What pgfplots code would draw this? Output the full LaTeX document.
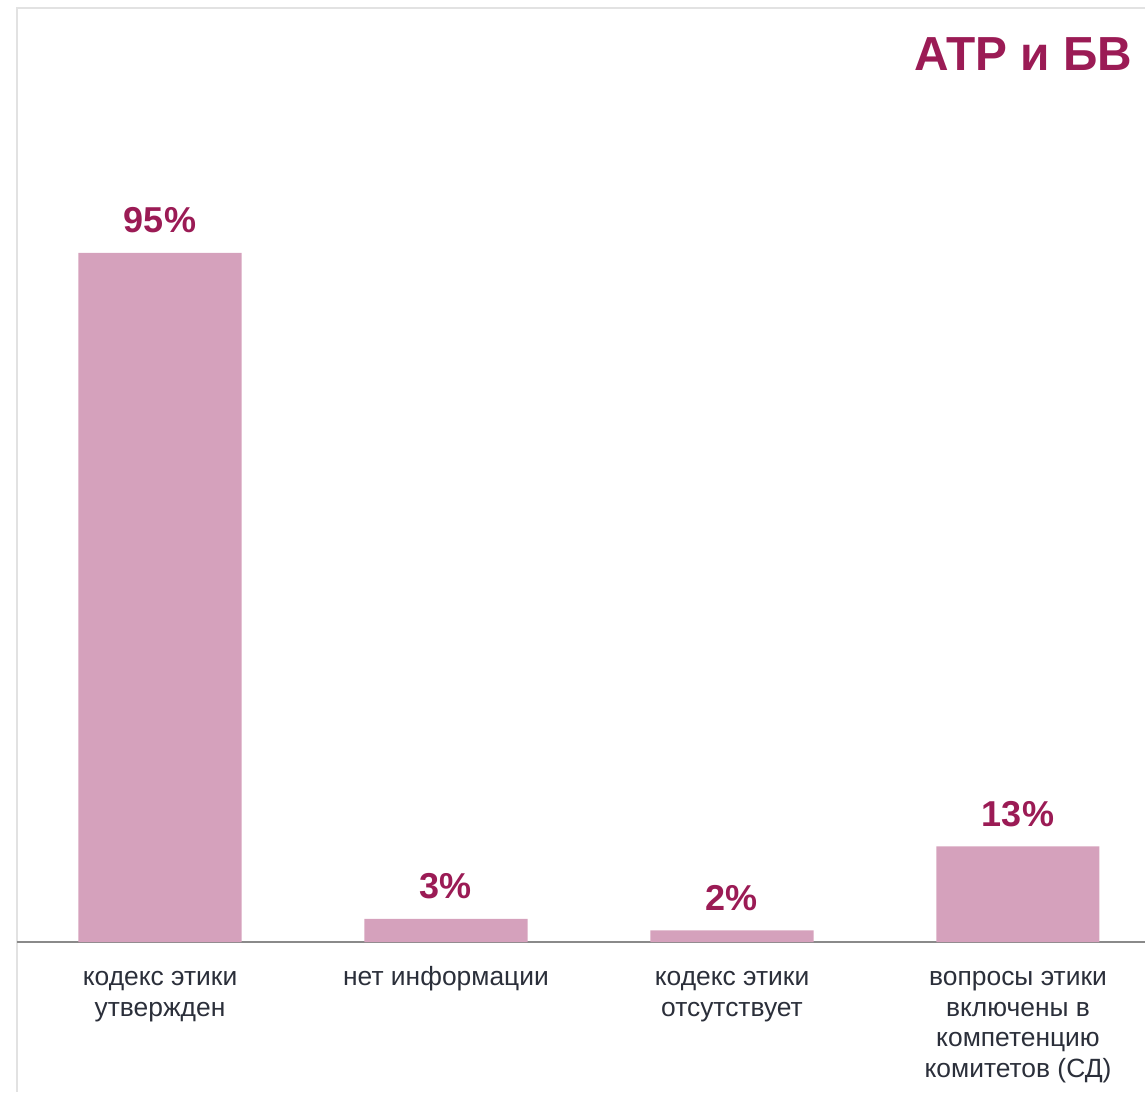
\documentclass[border=0pt]{standalone}
\usepackage{pgfplots}
\pgfplotsset{compat=1.18}
\usepackage{fontspec}
\setmainfont{Liberation Sans}
\definecolor{barpink}{HTML}{D5A1BC}
\definecolor{labred}{HTML}{9B1B55}
\definecolor{ticktext}{HTML}{2B2F3A}
\definecolor{axgray}{HTML}{8A8A8A}
\definecolor{framegray}{HTML}{E2E2E2}
\begin{document}
\begin{tikzpicture}
\draw[framegray, line width=1pt] (8.5pt,0pt) -- (8.5pt,541.75pt) -- (572.5pt,541.75pt);
\begin{axis}[
  at={(8.5pt,75pt)}, anchor=south west,
  scale only axis,
  width=564pt, height=466.75pt,
  xmin=-0.5, xmax=3.4441,
  ymin=0, ymax=128.71,
  axis x line=bottom, axis y line=none,
  x axis line style={-, draw=axgray, line width=0.8pt},
  xtick={0,1,2,3},
  xticklabels={{\strut кодекс этики\\утвержден},{\strut нет информации},{\strut кодекс этики\\отсутствует},{\strut вопросы этики\\включены в\\компетенцию\\комитетов (СД)}},
  xticklabel style={align=center, font=\fontsize{13.2}{15.4}\selectfont, text=ticktext, anchor=north, inner sep=0pt, yshift=-10.7pt},
  major tick length=0pt,
  ytick=\empty,
  clip=false,
  ybar, bar width=81.5pt,
  nodes near coords,
  point meta=explicit symbolic,
  nodes near coords style={font=\fontsize{18}{20}\selectfont\bfseries, text=labred, anchor=base, inner sep=0pt, yshift=10pt},
]
\addplot[fill=barpink, draw=none] coordinates {(0,95) [95\%] (1,3.2) [3\%] (2,1.6) [2\%] (3,13.2) [13\%]};
\end{axis}
\node[anchor=base east, inner sep=0pt, text=labred, font=\fontsize{23.9}{28}\selectfont\bfseries] at (566.3pt,510.5pt) {АТР и БВ};
\pgfresetboundingbox
\path (0,0) rectangle (572.5pt,546pt);
\end{tikzpicture}
\end{document}
